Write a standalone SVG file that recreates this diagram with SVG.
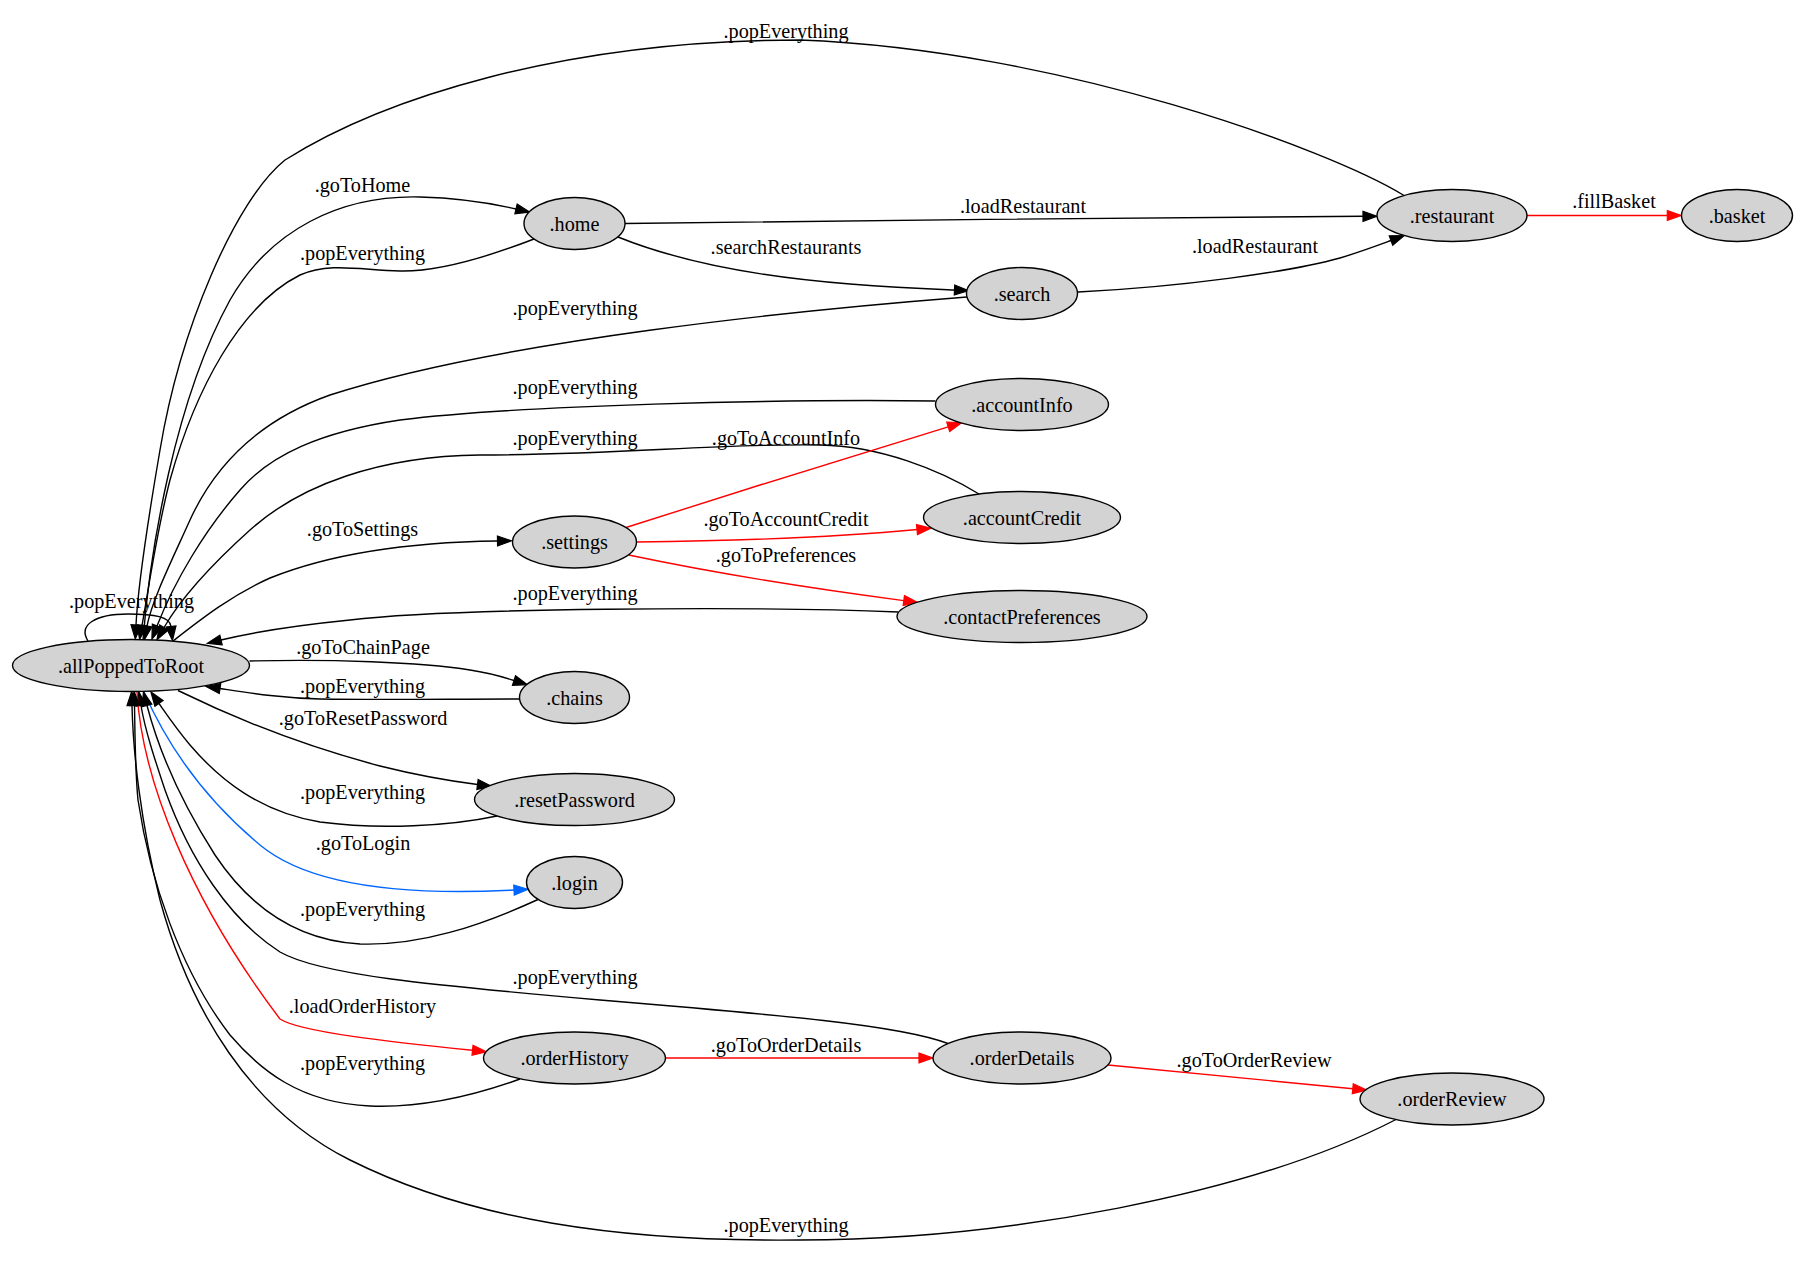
<svg xmlns="http://www.w3.org/2000/svg" width="1810" height="1268" viewBox="0 0 1810 1268">
<style>
text{font-family:"Liberation Serif","Times New Roman",serif;font-size:20.2px;text-anchor:middle;fill:#000}
.n ellipse{fill:#d3d3d3;stroke:#000;stroke-width:1.4}
.e path{fill:none;stroke-width:1.4}
.k{stroke:#000;marker-end:url(#ak)}
.r{stroke:#ff0000;marker-end:url(#ar)}
.b{stroke:#0066ff;marker-end:url(#ab)}
</style>
<defs>
<marker id="ak" viewBox="0 0 14 10" refX="0" refY="5" markerWidth="14" markerHeight="10" markerUnits="userSpaceOnUse" orient="auto" overflow="visible"><path d="M0,0 L14,5 L0,10 z" fill="#000" stroke="#000" stroke-width="1.2"/></marker>
<marker id="ar" viewBox="0 0 14 10" refX="0" refY="5" markerWidth="14" markerHeight="10" markerUnits="userSpaceOnUse" orient="auto" overflow="visible"><path d="M0,0 L14,5 L0,10 z" fill="#ff0000" stroke="#ff0000" stroke-width="1.2"/></marker>
<marker id="ab" viewBox="0 0 14 10" refX="0" refY="5" markerWidth="14" markerHeight="10" markerUnits="userSpaceOnUse" orient="auto" overflow="visible"><path d="M0,0 L14,5 L0,10 z" fill="#0066ff" stroke="#0066ff" stroke-width="1.2"/></marker>
</defs>
<rect width="1810" height="1268" fill="#fff"/>
<g id="edges" class="e">
<path class="k" d="M1404,195.5 C1330,150 1060,50 800,40 C560,40 380,100 285,160 C235,200 180,330 160,450 C148,520 138,585 136,625"/>
<text x="786" y="38">.popEverything</text>
<path class="k" d="M143,640 C150,550 175,400 230,300 C270,230 340,195 420,197 C460,198 490,203 516,209"/>
<text x="362.5" y="192">.goToHome</text>
<path class="k" d="M534,239 C490,256 440,272 400,271 C360,270 330,262 300,275 C240,305 195,390 170,480 C157,530 150,580 142,625.5"/>
<text x="362.5" y="260">.popEverything</text>
<path class="k" d="M625,223.5 C800,221 1200,217 1363,216.3"/>
<text x="1023" y="213">.loadRestaurant</text>
<path class="k" d="M618,237 C680,262 760,277 850,284 C900,288 930,289 954.5,290"/>
<text x="786" y="254">.searchRestaurants</text>
<path class="k" d="M1078,292 C1180,287 1290,272 1340,258 C1360,252 1376,246 1391,240.5"/>
<text x="1255" y="253">.loadRestaurant</text>
<path class="r" d="M1527,215.5 L1667.3,215.5"/>
<text x="1614" y="208">.fillBasket</text>
<path class="k" d="M967,297 C800,310 500,340 330,395 C260,420 215,465 190,520 C172,560 152,600 147,626"/>
<text x="575" y="315">.popEverything</text>
<path class="k" d="M935.5,401 C780,399 520,405 400,420 C320,432 270,455 240,490 C205,530 175,580 157,626"/>
<text x="575" y="393.5">.popEverything</text>
<path class="k" d="M979,494 C940,470 880,446 820,445 C720,443 620,455 480,455 C380,456 300,485 250,530 C210,566 180,600 164,627.5"/>
<text x="575" y="445">.popEverything</text>
<path class="r" d="M626,527.5 C730,494 850,457 948.2,426.8"/>
<text x="786" y="445">.goToAccountInfo</text>
<path class="k" d="M173,641 C200,620 230,596 270,578 C340,550 420,542 497.5,541"/>
<text x="362.5" y="536">.goToSettings</text>
<path class="r" d="M636.5,542 C720,541 830,538 917,529.5"/>
<text x="786" y="526">.goToAccountCredit</text>
<path class="r" d="M628.7,555 C700,570 800,587 903.8,600.6"/>
<text x="786" y="562">.goToPreferences</text>
<path class="k" d="M898.5,612 C750,606 450,608 350,620 C290,626 250,633 221,640"/>
<text x="575" y="600">.popEverything</text>
<path class="k" d="M88,641 C78,625 95,614 128,614 C155,614 170,617 171,626.5"/>
<text x="131.5" y="608">.popEverything</text>
<path class="k" d="M249.5,661 C330,659 420,662 470,670 C490,673 500,676 514,680.5"/>
<text x="363" y="654">.goToChainPage</text>
<path class="k" d="M519.5,699 C450,699 380,700 320,699 C280,698 250,693 220,688.5"/>
<text x="362.5" y="692.6">.popEverything</text>
<path class="k" d="M178,690.5 C230,716 300,745 380,766 C420,776 450,781 477.5,784.5"/>
<text x="363" y="725">.goToResetPassword</text>
<path class="k" d="M497,816 C450,826 380,830 320,822 C260,812 220,780 190,745 C175,727 165,712 159,703.5"/>
<text x="362.5" y="799">.popEverything</text>
<path class="b" d="M144,692 C165,740 200,795 260,845 C314,890 420,895 514,890"/>
<text x="363" y="849.5">.goToLogin</text>
<path class="k" d="M538,899.5 C480,926 420,946 360,944 C290,940 245,900 215,855 C185,808 160,755 147,705.5"/>
<text x="362.5" y="916">.popEverything</text>
<path class="k" d="M948,1043.5 C900,1025 780,1015 600,1000 C430,985 320,975 280,952 C230,920 190,860 165,790 C155,760 145,730 141,705.5"/>
<text x="575" y="984">.popEverything</text>
<path class="r" d="M137,692 C142,780 190,900 280,1019 C300,1032 390,1042 472.5,1050.3"/>
<text x="362.5" y="1013">.loadOrderHistory</text>
<path class="k" d="M520,1079 C470,1097 420,1108 370,1106 C300,1103 260,1070 230,1035 C180,970 150,880 138,800 C135,770 135,730 134.5,705.5"/>
<text x="362.5" y="1070">.popEverything</text>
<path class="r" d="M665.5,1058 L919,1058"/>
<text x="786" y="1052">.goToOrderDetails</text>
<path class="r" d="M1108,1065 L1352.8,1088.7"/>
<text x="1254" y="1067">.goToOrderReview</text>
<path class="k" d="M1396,1119.5 C1250,1195 1000,1240 800,1240 C620,1242 470,1220 350,1160 C250,1110 190,1010 160,900 C140,820 133,750 132,705.5"/>
<text x="786" y="1232">.popEverything</text>
</g>
<g id="node-allPoppedToRoot" class="n"><ellipse cx="131" cy="665.5" rx="118.5" ry="26"/><text x="131" y="672.5">.allPoppedToRoot</text></g>
<g id="node-home" class="n"><ellipse cx="574.5" cy="223.5" rx="50.5" ry="26"/><text x="574.5" y="230.5">.home</text></g>
<g id="node-search" class="n"><ellipse cx="1022" cy="293.5" rx="55.5" ry="26"/><text x="1022" y="300.5">.search</text></g>
<g id="node-restaurant" class="n"><ellipse cx="1452" cy="215.5" rx="75" ry="26"/><text x="1452" y="222.5">.restaurant</text></g>
<g id="node-basket" class="n"><ellipse cx="1737" cy="215.5" rx="55.5" ry="26"/><text x="1737" y="222.5">.basket</text></g>
<g id="node-accountInfo" class="n"><ellipse cx="1022" cy="404.5" rx="86.5" ry="26"/><text x="1022" y="411.5">.accountInfo</text></g>
<g id="node-accountCredit" class="n"><ellipse cx="1022" cy="517.5" rx="98.5" ry="26"/><text x="1022" y="524.5">.accountCredit</text></g>
<g id="node-contactPreferences" class="n"><ellipse cx="1022" cy="616.5" rx="125" ry="26"/><text x="1022" y="623.5">.contactPreferences</text></g>
<g id="node-settings" class="n"><ellipse cx="574.5" cy="542" rx="62" ry="26"/><text x="574.5" y="549">.settings</text></g>
<g id="node-chains" class="n"><ellipse cx="574.5" cy="697.5" rx="55" ry="26"/><text x="574.5" y="704.5">.chains</text></g>
<g id="node-resetPassword" class="n"><ellipse cx="574.5" cy="799.5" rx="100" ry="26"/><text x="574.5" y="806.5">.resetPassword</text></g>
<g id="node-login" class="n"><ellipse cx="574.5" cy="882.5" rx="48" ry="26"/><text x="574.5" y="889.5">.login</text></g>
<g id="node-orderHistory" class="n"><ellipse cx="574.5" cy="1058" rx="91" ry="26"/><text x="574.5" y="1065">.orderHistory</text></g>
<g id="node-orderDetails" class="n"><ellipse cx="1022" cy="1058" rx="89" ry="26"/><text x="1022" y="1065">.orderDetails</text></g>
<g id="node-orderReview" class="n"><ellipse cx="1452" cy="1099" rx="92" ry="26"/><text x="1452" y="1106">.orderReview</text></g>
</svg>
